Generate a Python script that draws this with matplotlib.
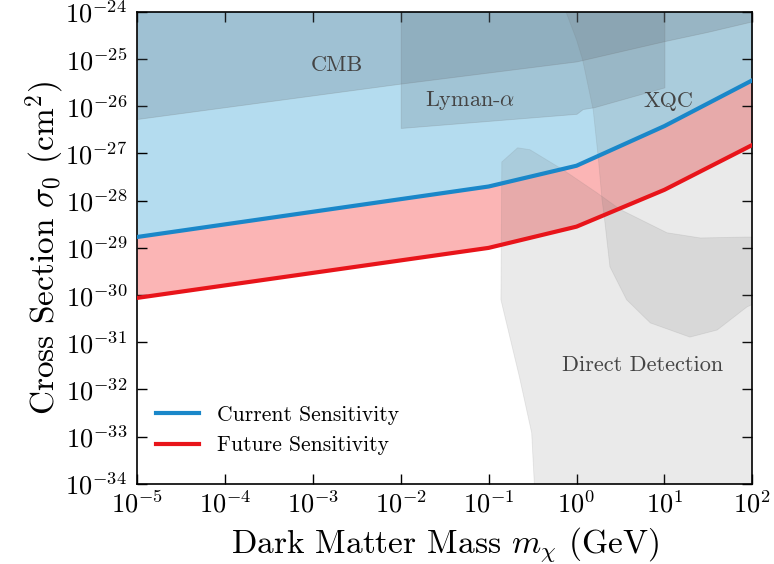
import numpy as np
import matplotlib
matplotlib.use("Agg")
import matplotlib.pyplot as plt

plt.rcParams['font.family'] = 'serif'
plt.rcParams['font.serif'] = ['cmr10', 'DejaVu Serif']
plt.rcParams['mathtext.fontset'] = 'cm'
plt.rcParams['axes.formatter.use_mathtext'] = True
plt.rcParams['axes.unicode_minus'] = False

# sensitivity curves (log10 values)
mass_log = [-5, -1, 0, 1, 2]
current_log = [-28.77, -27.70, -27.26, -26.42, -25.45]
future_log = [-30.06, -29.00, -28.55, -27.77, -26.82]

# CMB lower bound
cmb_mass_log = [-5, -2, 0, 1, 1.5, 2]
cmb_sigma_log = [-26.27, -25.52, -25.05, -24.62, -24.42, -24.20]

# Lyman-alpha lower bound (0.01 - 10 GeV)
lya_mass_log = [-2, 0, 0.07, 0.2, 1]
lya_sigma_log = [-26.46, -26.16, -26.06, -26.02, -25.60]

# XQC boundary
xqc_mass_log = [-0.12, 0.0, 0.07, 0.19, 0.25, 0.29, 0.32, 0.38, 0.57, 0.84, 1.29, 1.60, 1.94, 2.0]
xqc_sigma_log = [-24.0, -24.59, -25.02, -26.08, -27.14, -27.98, -28.41, -29.40, -30.10, -30.59, -30.89, -30.74, -30.25, -30.20]

# Direct detection boundary
dd_mass_log = [-0.48, -0.51, -0.65, -0.86, -0.85, -0.67, -0.53, -0.15, 0.23, 0.50, 1.03, 1.41, 1.94, 2.0]
dd_sigma_log = [-34.0, -32.92, -31.73, -30.10, -27.18, -26.88, -26.92, -27.35, -27.83, -28.19, -28.68, -28.79, -28.77, -28.77]

fig = plt.figure(figsize=(7.74, 5.64), dpi=100)
ax = fig.add_axes([0.177, 0.142, 0.795, 0.837])

m = 10.0 ** np.array(mass_log)
cur = 10.0 ** np.array(current_log)
fut = 10.0 ** np.array(future_log)

ax.fill_between(m, cur, 1e-20, color='#b4dcef', lw=0, zorder=1)
ax.fill_between(m, fut, cur, color='#fbb5b5', lw=0, zorder=1)

grey = '#6e6e6e'
# CMB
cx = 10.0 ** np.array(cmb_mass_log)
ax.fill_between(cx, 10.0 ** np.array(cmb_sigma_log), 1e-20, color='#5f6f7a', alpha=0.24,
                edgecolor=grey, lw=0.6, zorder=2)
# Lyman-alpha
lx = 10.0 ** np.array(lya_mass_log)
ax.fill_between(lx, 10.0 ** np.array(lya_sigma_log), 1e-20, color='#5f6f7a', alpha=0.22,
                edgecolor=grey, lw=0.6, zorder=2)
# XQC
xx = list(10.0 ** np.array(xqc_mass_log)) + [1e3, 1e3]
xy = list(10.0 ** np.array(xqc_sigma_log)) + [1e-30, 1e-20]
xx = [xx[0]] + xx
xy = [1e-20] + xy
ax.fill(xx, xy, facecolor=grey, alpha=0.14, edgecolor=grey, lw=0.6, zorder=2)
# Direct detection
dx = list(10.0 ** np.array(dd_mass_log)) + [1e3, 1e3]
dy = list(10.0 ** np.array(dd_sigma_log)) + [10.0 ** dd_sigma_log[-1], 1e-40]
dx = [dx[0]] + dx
dy = [1e-40] + dy
ax.fill(dx, dy, facecolor=grey, alpha=0.14, edgecolor=grey, lw=0.6, zorder=2)

ax.plot(m, cur, color='#1a87c9', lw=3, label='Current Sensitivity', zorder=4)
ax.plot(m, fut, color='#e8141a', lw=3, label='Future Sensitivity', zorder=4)

tc = '#444444'
ax.text(1.9e-3, 7.5e-26, 'CMB', fontsize=16, color=tc, ha='center', va='center', zorder=5)
ax.text(0.062, 1.3e-26, r'Lyman-$\alpha$', fontsize=16, color=tc, ha='center', va='center', zorder=5)
ax.text(11, 1.3e-26, 'XQC', fontsize=16, color=tc, ha='center', va='center', zorder=5)
ax.text(5.7, 3.3e-32, 'Direct Detection', fontsize=16, color=tc, ha='center', va='center', zorder=5)

ax.set_xscale('log')
ax.set_yscale('log')
ax.set_xlim(1e-5, 1e2)
ax.set_ylim(1e-34, 1e-24)
ax.set_xticks([10.0 ** k for k in range(-5, 3)])
ax.set_yticks([10.0 ** k for k in range(-34, -23)])
ax.tick_params(which='both', direction='in', top=True, right=True, labelsize=19)
ax.tick_params(which='major', length=7, width=1)
ax.tick_params(which='minor', length=3.5, width=0.8)
ax.tick_params(axis='y', which='major', pad=7)
ax.tick_params(axis='x', which='major', pad=5)
for s in ax.spines.values():
    s.set_linewidth(1.2)

ax.set_xlabel(r'Dark Matter Mass $m_\chi$ (GeV)', fontsize=24)
ax.set_ylabel(r'Cross Section $\sigma_0$ (cm$^2$)', fontsize=24)
ax.xaxis.set_label_coords(0.5, -0.087)
ax.yaxis.set_label_coords(-0.113, 0.5)

leg = ax.legend(loc='lower left', frameon=False, fontsize=15.5, handlelength=2.0,
                bbox_to_anchor=(0.0, 0.02))
for h in leg.legend_handles:
    h.set_linewidth(3)

fig.savefig('out.png', dpi=100)
